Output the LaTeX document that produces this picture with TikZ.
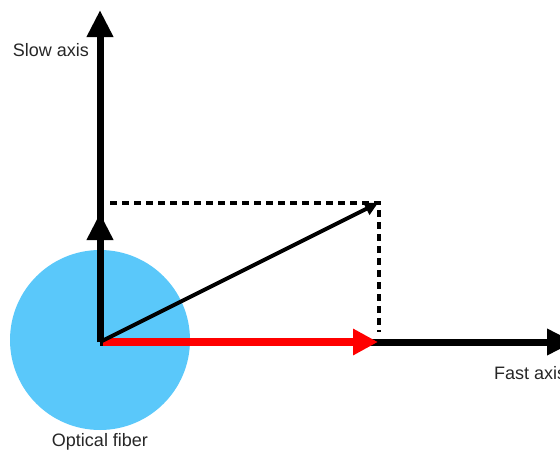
\documentclass[tikz,border=0pt]{standalone}
\usepackage{fontspec}
\setmainfont{Liberation Sans}
\usetikzlibrary{arrows.meta}
\definecolor{fiber}{RGB}{90,200,250}
\tikzset{
  axisline/.style={line width=7pt, -{Triangle[length=27pt,width=25pt]}},
  redvec/.style={line width=8pt, red, -{Triangle[length=25pt,width=25pt]}},
  diagvec/.style={line width=4pt, -{Triangle[length=13pt,width=13pt]}},
  dashline/.style={line width=4.5pt, dash pattern=on 7pt off 5pt},
  lbl/.style={font=\fontsize{18}{21}\selectfont, text=black!85, inner sep=0pt}
}
\begin{document}
\begin{tikzpicture}[x=1pt,y=-1pt]
\useasboundingbox (0,0) rectangle (560,450);
\begin{scope}
\clip (0,0) rectangle (560,450);
\fill[fiber] (100,340) circle (90);
\coordinate (O) at (100,342);
\coordinate (ytop) at (100,10);
\coordinate (xend) at (574,342);
\coordinate (ymid) at (100,213);
\coordinate (P) at (378,203);
\coordinate (Px) at (378,342);
\coordinate (Pxd) at (379,332);
\coordinate (Pyd) at (110,203);
\draw[dashline] (Pyd) -- (379,203) -- (Pxd);
\draw[axisline] (O) -- (xend);
\draw[axisline] (O) -- (ytop);
\draw[axisline] (O) -- (ymid);
\draw[redvec] ([xshift=3pt]O) -- (Px);
\draw[diagvec] (O) -- (P);
\end{scope}
\node[lbl, anchor=east] (slow) at (89,50) {Slow axis};
\node[lbl, anchor=west] (fast) at (494,373) {Fast axis};
\node[lbl] (fib) at (100,442) {Optical fiber};
\end{tikzpicture}
\end{document}
